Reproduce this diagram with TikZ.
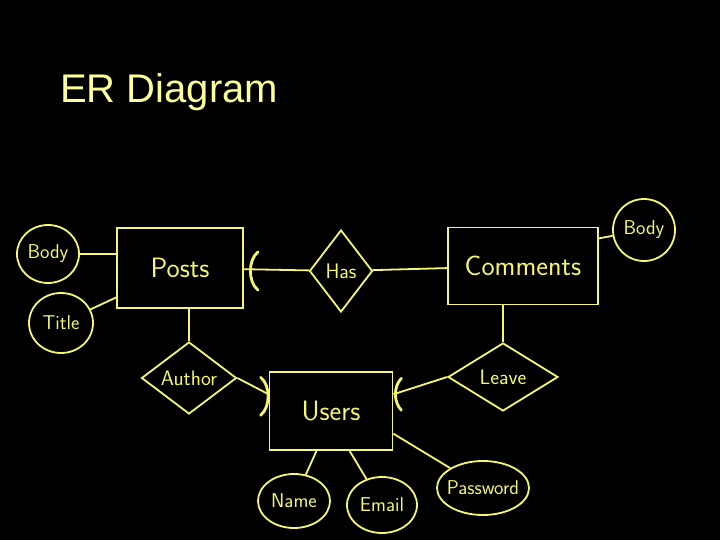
\documentclass[tikz,border=0pt]{standalone}
\usepackage{fontspec}
\usepackage{tikz}
\usetikzlibrary{shapes.geometric, positioning}
\setmainfont{Liberation Sans}
\definecolor{ER_Chalk}{HTML}{F7F76E}
\definecolor{ER_Title}{HTML}{FFFF99}
\tikzset{
    entity/.style={draw=ER_Chalk, rectangle, line width=1.8pt, text=ER_Chalk, inner sep=0pt, font=\sffamily\fontsize{28}{30}\selectfont},
    relation/.style={draw=ER_Chalk, diamond, aspect=1.4, line width=1.8pt, text=ER_Chalk, inner sep=0pt, font=\sffamily\fontsize{21}{23}\selectfont},
    attrib/.style={draw=ER_Chalk, ellipse, line width=1.8pt, text=ER_Chalk, inner xsep=-8pt, inner ysep=0pt, font=\sffamily\fontsize{20}{22}\selectfont},
    link/.style={draw=ER_Chalk, line width=1.8pt},
    card/.style={draw=ER_Chalk, line width=2.8pt, line cap=round}
}
\begin{document}
\begin{tikzpicture}[x=1pt, y=-1pt]
    % Slide background
    \fill[black] (0,0) rectangle (720,540);
    \useasboundingbox (0,0) rectangle (720,540);
    % Title
    \node[anchor=base west, inner sep=0pt, text=ER_Title, font=\fontsize{40}{44}\selectfont] (title) at (60,103) {ER Diagram};
    % Entities
    \node[entity, minimum width=126, minimum height=80] (posts) at (180,268) {Posts};
    \node[entity, minimum width=150, minimum height=77] (comments) at (523,266) {Comments};
    \node[entity, minimum width=123, minimum height=78] (users) at (331,411) {Users};
    % Relationships
    \node[relation, minimum width=63, minimum height=82] (has) at (341,271) {Has};
    \node[relation, minimum width=95, minimum height=72] (author) at (189,378) {Author};
    \node[relation, minimum width=110, minimum height=68] (leave) at (503,377) {Leave};
    % Attributes
    \node[attrib, minimum width=62, minimum height=58] (bodyP) at (48,254) {Body};
    \node[attrib, minimum width=64, minimum height=60] (titleP) at (61,323) {Title};
    \node[attrib, minimum width=62, minimum height=62] (bodyC) at (644,230) {Body};
    \node[attrib, minimum width=72, minimum height=54] (name) at (294,501) {Name};
    \node[attrib, minimum width=70, minimum height=56] (email) at (382,505) {Email};
    \node[attrib, minimum width=92, minimum height=54] (password) at (483,488) {Password};
    % Connectors
    \draw[link] (bodyP) -- (posts.west |- bodyP);
    \draw[link] (titleP) -- (posts);
    \draw[link] (posts) -- (has);
    \draw[link] (has) -- (comments);
    \draw[link] (comments.20) -- (bodyC);
    \draw[link] (posts.south -| author.north) -- (author.north);
    \draw[link] (comments.south -| leave.north) -- (leave.north);
    \draw[link] (author.east) -- (users.165);
    \draw[link] (leave.west) -- (users.15);
    \draw[link] (users.250) -- (name);
    \draw[link] (users.295) -- (email);
    \draw[link] (users.-20) -- (password);
    % Cardinality marks
    \draw[card] ([shift={(14,-16)}]posts.east) .. controls +(-10,8) and +(-10,-8) .. ([shift={(14,22)}]posts.east);
    \draw[card] ([shift={(-8,-17)}]users.165) .. controls +(10,8) and +(10,-8) .. ([shift={(-8,21)}]users.165);
    \draw[card] ([shift={(8,-16)}]users.15) .. controls +(-8,8) and +(-8,-8) .. ([shift={(8,16)}]users.15);
\end{tikzpicture}
\end{document}
